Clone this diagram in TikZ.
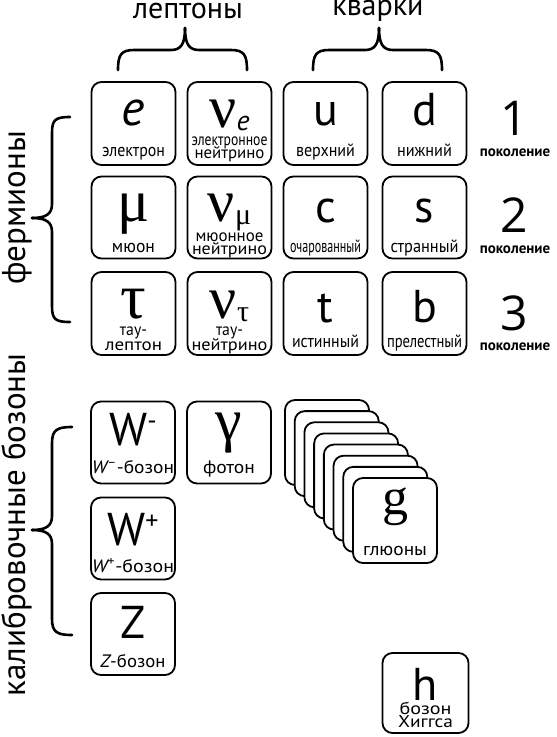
\documentclass[tikz,border=0pt]{standalone}
\usepackage{fontspec}
\usepackage{graphicx}
\setmainfont{PT Sans}
\newfontfamily\gr{Liberation Serif}
\newfontfamily\digits{Open Sans}
\newcommand\fitw[2]{\resizebox{#1pt}{\height}{#2}}
\tikzset{
 pbox/.style={draw, line width=1.8pt, rounded corners=10pt, minimum width=84pt, minimum height=82pt, inner sep=0pt, fill=white},
 sym/.style={anchor=base, inner sep=0pt, font=\fontsize{46}{46}\selectfont},
 gsym/.style={anchor=base, inner sep=0pt, font=\gr\fontsize{60}{60}\selectfont},
 lab/.style={anchor=base, inner sep=0pt, font=\fontsize{18}{18}\selectfont},
 lab2/.style={anchor=base, inner sep=0pt, font=\fontsize{17}{17}\selectfont},
 brace/.style={line width=2.6pt, line cap=round, line join=round},
 head/.style={anchor=base, inner sep=0pt, font=\fontsize{30}{30}\selectfont},
 rothead/.style={anchor=base, inner sep=0pt, rotate=90, font=\fontsize{33}{33}\selectfont},
 gen/.style={anchor=base, inner sep=0pt, font=\digits\fontsize{48}{48}\selectfont},
 genlab/.style={anchor=base, inner sep=0pt, font=\bfseries\fontsize{15}{15}\selectfont},
}
\begin{document}
\begin{tikzpicture}[x=1pt,y=-1pt]
\useasboundingbox (0,0) rectangle (557,737);

% headings
\node[head] (hlep) at (188,18) {лептоны};
\node[head] (hqua) at (378,15) {кварки};
\node[rothead] (hfer) at (25,208) {фермионы};
\node[rothead] (hbos) at (25,525) {калибровочные бозоны};

% braces
\draw[brace] (118,70) .. controls (118,55) and (121,50) .. (134,50) -- (171,50) .. controls (181,50) and (185,44) .. (185,28);
\draw[brace] (247,70) .. controls (247,55) and (244,50) .. (231,50) -- (199,50) .. controls (189,50) and (185,44) .. (185,28);
\draw[brace] (313,70) .. controls (313,55) and (316,50) .. (329,50) -- (365,50) .. controls (375,50) and (379,44) .. (379,28);
\draw[brace] (442,70) .. controls (442,55) and (439,50) .. (426,50) -- (393,50) .. controls (383,50) and (379,44) .. (379,28);
\draw[brace] (70,117) .. controls (55,117) and (52,120) .. (52,133) -- (52,204) .. controls (52,214) and (46,218) .. (32,218);
\draw[brace] (70,322) .. controls (55,322) and (52,319) .. (52,306) -- (52,232) .. controls (52,222) and (46,218) .. (32,218);
\draw[brace] (72,427) .. controls (57,427) and (52,430) .. (52,443) -- (52,516) .. controls (52,526) and (46,530) .. (32,530);
\draw[brace] (72,635) .. controls (57,635) and (52,632) .. (52,619) -- (52,544) .. controls (52,534) and (46,530) .. (32,530);

% row 1
\node[pbox, minimum height=83pt] (be) at (133.5,123.5) {};
\node[sym, font=\itshape\fontsize{50}{50}\selectfont] (se) at (133.5,125) {e};
\node[lab] (le) at (133.5,156) {\fitw{63}{электрон}};
\node[pbox, minimum height=83pt] (bne) at (229.5,123.5) {};
\node[gsym] (sne) at (229.5,127) {ν\raisebox{-3pt}{\fontsize{28}{28}\selectfont\rmfamily\itshape e}};
\node[lab2] (lne1) at (229.5,145) {\fitw{76}{электронное}};
\node[lab2] (lne2) at (229.5,158) {\fitw{70}{нейтрино}};
\node[pbox, minimum height=83pt] (bu) at (325.5,123.5) {};
\node[sym] (su) at (325.5,125) {u};
\node[lab] (lu) at (325.5,156) {\fitw{59}{верхний}};
\node[pbox, minimum height=83pt] (bd) at (424.5,123.5) {};
\node[sym] (sd) at (424.5,125) {d};
\node[lab] (ld) at (424.5,156) {\fitw{55}{нижний}};
\node[gen] (g1) at (514,135) {1};
\node[genlab] (p1) at (515,156) {поколение};

% row 2
\node[pbox] (bmu) at (133.5,217.5) {};
\node[gsym] (smu) at (133.5,221) {μ};
\node[lab] (lmu) at (133.5,252) {\fitw{43}{мюон}};
\node[pbox] (bnm) at (229.5,217.5) {};
\node[gsym] (snm) at (229.5,221) {ν\raisebox{-3pt}{\fontsize{30}{30}\selectfont μ}};
\node[lab2] (lnm1) at (229.5,241) {\fitw{68}{мюонное}};
\node[lab2] (lnm2) at (229.5,254) {\fitw{75}{нейтрино}};
\node[pbox] (bc) at (325.5,217.5) {};
\node[sym] (sc) at (325.5,222) {c};
\node[lab] (lc) at (325.5,252) {\fitw{71}{очарованный}};
\node[pbox] (bs) at (424.5,217.5) {};
\node[sym] (ss) at (424.5,222) {s};
\node[lab] (ls) at (424.5,252) {\fitw{68}{странный}};
\node[gen] (g2) at (514,232) {2};
\node[genlab] (p2) at (515,253) {поколение};

% row 3
\node[pbox, minimum height=83pt] (bta) at (133.5,313.5) {};
\node[gsym, font=\gr\fontsize{64}{64}\selectfont] (sta) at (133.5,318) {τ};
\node[lab2] (lta1) at (133.5,335) {\fitw{27}{тау-}};
\node[lab2] (lta2) at (133.5,350) {\fitw{57}{лептон}};
\node[pbox, minimum height=83pt] (bnt) at (229.5,313.5) {};
\node[gsym] (snt) at (229.5,318) {ν\raisebox{-3pt}{\fontsize{30}{30}\selectfont τ}};
\node[lab2] (lnt1) at (229.5,335) {\fitw{27}{тау-}};
\node[lab2] (lnt2) at (229.5,350) {\fitw{76}{нейтрино}};
\node[pbox, minimum height=83pt] (bt) at (325.5,313.5) {};
\node[sym] (st) at (325.5,322) {t};
\node[lab] (lt) at (325.5,347) {\fitw{67}{истинный}};
\node[pbox, minimum height=83pt] (bb) at (424.5,313.5) {};
\node[sym] (sb) at (424.5,322) {b};
\node[lab] (lb) at (424.5,347) {\fitw{75}{прелестный}};
\node[gen] (g3) at (514,330) {3};
\node[genlab] (p3) at (515,350) {поколение};

% bosons
\node[pbox] (bwm) at (133,442.5) {};
\node[sym] (swm) at (133,445) {W\raisebox{16pt}{\fontsize{26}{26}\selectfont -}};
\node[lab] (lwm) at (133,473) {\fitw{82}{{\itshape W}\textsuperscript{–}-бозон}};
\node[pbox] (bga) at (229,442.5) {};
\node[gsym] (sga) at (229,440) {γ};
\node[lab] (lga) at (229,473) {\fitw{52}{фотон}};
\node[pbox] (bwp) at (133,538.5) {};
\node[sym] (swp) at (133,545) {W\raisebox{16pt}{\fontsize{26}{26}\selectfont +}};
\node[lab] (lwp) at (133,572) {\fitw{82}{{\itshape W}\textsuperscript{+}-бозон}};
\node[pbox] (bz) at (133,634) {};
\node[sym] (sz) at (133,638) {Z};
\node[lab] (lz) at (133,667) {\fitw{65}{{\itshape Z}-бозон}};

% gluons
\foreach \i in {0,...,7}
  \node[pbox, minimum height=85pt] (gl\i) at (327+\i*9.714, 442.5+\i*11.143) {};
\node[anchor=base, inner sep=0pt, font=\gr\fontsize{52}{52}\selectfont] (sg) at (395,514) {g};
\node[lab] (lg) at (395,555) {\fitw{64}{глюоны}};

% higgs
\node[pbox, minimum width=86pt, minimum height=80pt] (bh) at (425.5,693) {};
\node[sym] (sh) at (425.5,700) {h};
\node[lab2] (lh1) at (425.5,714) {\fitw{52}{бозон}};
\node[lab2] (lh2) at (425.5,727) {\fitw{55}{Хиггса}};
\end{tikzpicture}
\end{document}
